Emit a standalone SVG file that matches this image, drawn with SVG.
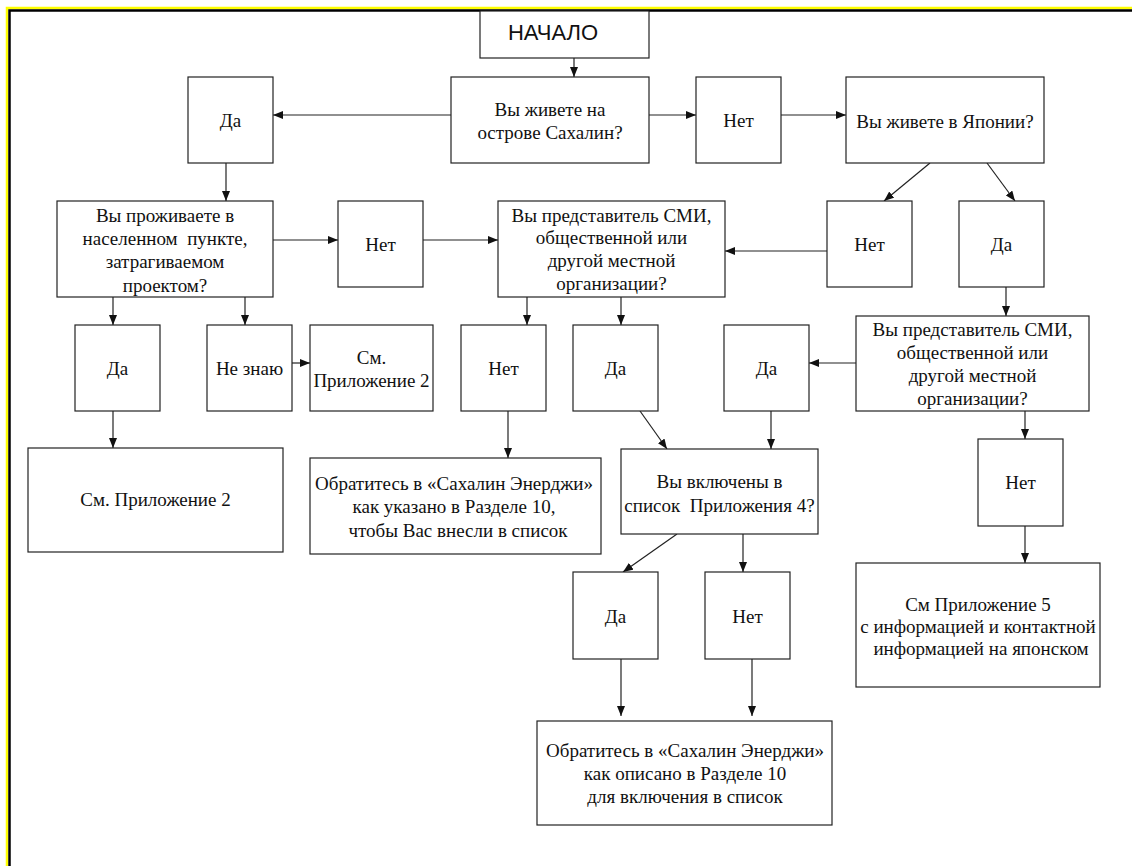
<svg xmlns="http://www.w3.org/2000/svg" width="1132" height="866" viewBox="0 0 1132 866">
<style>
.b{fill:#fff;stroke:#222;stroke-width:1.2}
.t{font-family:"Liberation Serif","Times New Roman",serif;font-size:19px;fill:#111;text-anchor:middle}
.s{font-family:"Liberation Sans",Arial,sans-serif;font-size:22px;fill:#111;text-anchor:middle}
.c line{stroke:#222;stroke-width:1.2;marker-end:url(#ah)}
</style>
<defs>
<marker id="ah" markerUnits="userSpaceOnUse" markerWidth="10" markerHeight="8" refX="10" refY="4" orient="auto">
<path d="M0,0 L10,4 L0,8 z" fill="#111"/>
</marker>
</defs>
<rect width="1132" height="866" fill="#fff"/>
<g id="frame">
<path d="M7,866 V8 H1132" fill="none" stroke="#ffff00" stroke-width="2.5"/>
<path d="M9.5,866 V10.5 H1132" fill="none" stroke="#000" stroke-width="2.5"/>
</g>
<g class="c" id="connectors">
<line x1="574" y1="58" x2="574" y2="77"/>
<line x1="451" y1="115" x2="273" y2="115"/>
<line x1="649" y1="115" x2="696" y2="115"/>
<line x1="781" y1="115" x2="846" y2="115"/>
<line x1="930" y1="163" x2="884" y2="201"/>
<line x1="987" y1="163" x2="1015" y2="201"/>
<line x1="226" y1="163" x2="226" y2="201"/>
<line x1="273" y1="240" x2="338" y2="240"/>
<line x1="423" y1="240" x2="498" y2="240"/>
<line x1="827" y1="251" x2="725" y2="251"/>
<line x1="113" y1="287" x2="113" y2="325"/>
<line x1="245" y1="287" x2="245" y2="325"/>
<line x1="292" y1="363" x2="310" y2="363"/>
<line x1="527" y1="297" x2="527" y2="325"/>
<line x1="621" y1="297" x2="621" y2="325"/>
<line x1="1006" y1="287" x2="1006" y2="316"/>
<line x1="856" y1="363" x2="809" y2="363"/>
<line x1="113" y1="411" x2="113" y2="448"/>
<line x1="508" y1="411" x2="508" y2="458"/>
<line x1="640" y1="411" x2="667" y2="449"/>
<line x1="771" y1="411" x2="771" y2="449"/>
<line x1="677" y1="534" x2="623" y2="572"/>
<line x1="743" y1="534" x2="743" y2="572"/>
<line x1="621" y1="659" x2="621" y2="716"/>
<line x1="752" y1="659" x2="752" y2="716"/>
<line x1="1025" y1="411" x2="1025" y2="439"/>
<line x1="1025" y1="526" x2="1025" y2="563"/>
</g>
<g id="start"><rect class="b" x="480" y="11" width="169" height="47"/><text class="s" x="553" y="40">НАЧАЛО</text></g>
<g id="q-sakhalin"><rect class="b" x="451" y="77" width="198" height="86"/><text class="t" x="550" y="116">Вы живете на</text><text class="t" x="550" y="139">острове Сахалин?</text></g>
<g id="yes1"><rect class="b" x="188" y="77" width="85" height="86"/><text class="t" x="230.5" y="127">Да</text></g>
<g id="no1"><rect class="b" x="696" y="77" width="85" height="86"/><text class="t" x="738.5" y="127">Нет</text></g>
<g id="q-japan"><rect class="b" x="846" y="77" width="198" height="86"/><text class="t" x="945" y="128">Вы живете в Японии?</text></g>
<g id="q-settlement"><rect class="b" x="57" y="201" width="216" height="96"/><text class="t" x="165" y="222">Вы проживаете в</text><text class="t" x="165" y="245" xml:space="preserve">населенном  пункте,</text><text class="t" x="165" y="268">затрагиваемом</text><text class="t" x="165" y="292">проектом?</text></g>
<g id="no2"><rect class="b" x="338" y="201" width="85" height="86"/><text class="t" x="380.5" y="251">Нет</text></g>
<g id="q-media1"><rect class="b" x="498" y="201" width="227" height="96"/><text class="t" x="611.5" y="222">Вы представитель СМИ,</text><text class="t" x="611.5" y="244">общественной или</text><text class="t" x="611.5" y="267">другой местной</text><text class="t" x="611.5" y="290">организации?</text></g>
<g id="no3"><rect class="b" x="827" y="201" width="85" height="86"/><text class="t" x="869.5" y="251">Нет</text></g>
<g id="yes3"><rect class="b" x="959" y="201" width="85" height="86"/><text class="t" x="1001.5" y="251">Да</text></g>
<g id="yes4"><rect class="b" x="75" y="325" width="85" height="86"/><text class="t" x="117.5" y="375">Да</text></g>
<g id="dontknow"><rect class="b" x="207" y="325" width="85" height="86"/><text class="t" x="249.5" y="375">Не знаю</text></g>
<g id="see2-small"><rect class="b" x="310" y="325" width="123" height="86"/><text class="t" x="371.5" y="364">См.</text><text class="t" x="371.5" y="387">Приложение 2</text></g>
<g id="no5"><rect class="b" x="461" y="325" width="85" height="86"/><text class="t" x="503.5" y="375">Нет</text></g>
<g id="yes5"><rect class="b" x="573" y="325" width="85" height="86"/><text class="t" x="615.5" y="375">Да</text></g>
<g id="yes6"><rect class="b" x="724" y="325" width="85" height="86"/><text class="t" x="766.5" y="375">Да</text></g>
<g id="q-media2"><rect class="b" x="856" y="316" width="233" height="95"/><text class="t" x="972.5" y="336">Вы представитель СМИ,</text><text class="t" x="972.5" y="359">общественной или</text><text class="t" x="972.5" y="382">другой местной</text><text class="t" x="972.5" y="405">организации?</text></g>
<g id="see2-big"><rect class="b" x="28" y="448" width="255" height="104"/><text class="t" x="155.5" y="506">См. Приложение 2</text></g>
<g id="contact1"><rect class="b" x="310" y="458" width="291" height="96"/><text class="t" x="454" y="490">Обратитесь в «Сахалин Энерджи»</text><text class="t" x="454" y="513">как указано в Разделе 10,</text><text class="t" x="458" y="537">чтобы Вас внесли в список</text></g>
<g id="q-list"><rect class="b" x="621" y="449" width="197" height="85"/><text class="t" x="719.5" y="488">Вы включены в</text><text class="t" x="719.5" y="512" xml:space="preserve">список  Приложения 4?</text></g>
<g id="yes7"><rect class="b" x="573" y="572" width="85" height="87"/><text class="t" x="615.5" y="623">Да</text></g>
<g id="no7"><rect class="b" x="705" y="572" width="85" height="87"/><text class="t" x="747.5" y="623">Нет</text></g>
<g id="contact2"><rect class="b" x="537" y="721" width="295" height="104"/><text class="t" x="685" y="757">Обратитесь в «Сахалин Энерджи»</text><text class="t" x="685" y="780">как описано в Разделе 10</text><text class="t" x="685" y="803">для включения в список</text></g>
<g id="no8"><rect class="b" x="978" y="439" width="85" height="87"/><text class="t" x="1020.5" y="489">Нет</text></g>
<g id="see5"><rect class="b" x="856" y="563" width="244" height="124"/><text class="t" x="978" y="611">См Приложение 5</text><text class="t" x="978" y="633">с информацией и контактной</text><text class="t" x="981" y="655">информацией на японском</text></g>
</svg>
